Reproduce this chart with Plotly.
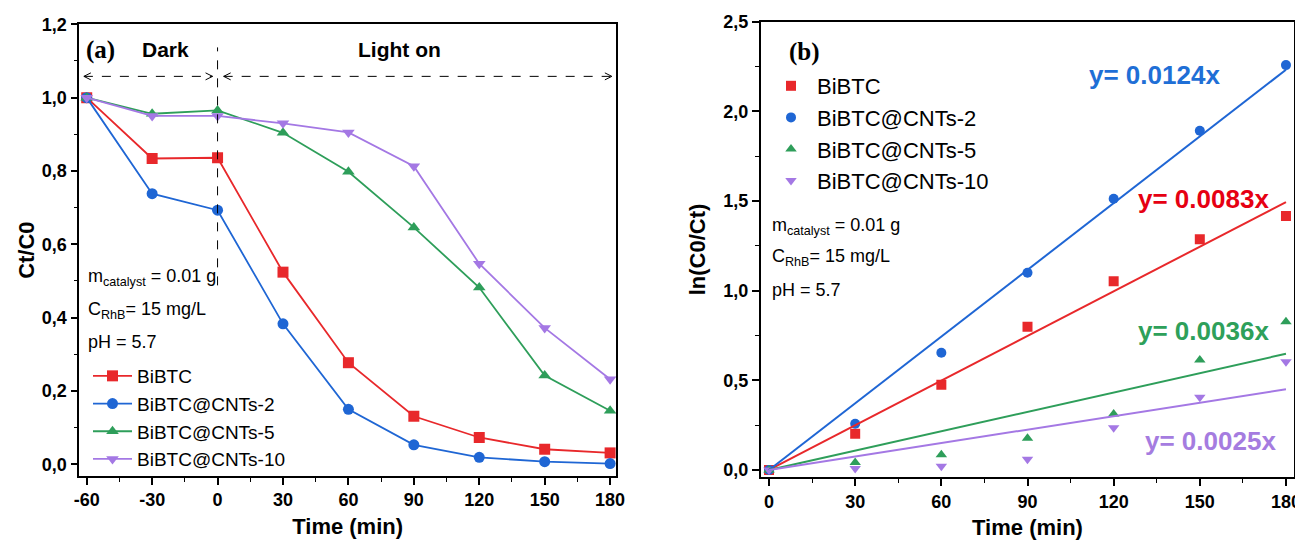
import plotly.graph_objects as go

# ---------------- data ----------------
series_names = ["BiBTC", "BiBTC@CNTs-2", "BiBTC@CNTs-5", "BiBTC@CNTs-10"]
colors = ["#e8282b", "#1f66d4", "#2e9e5a", "#a478e4"]
label_colors = ["#e60012", "#1f6fd6", "#2ea05a", "#a57ce0"]
symbols_a = ["square", "circle", "triangle-up", "triangle-down"]

time_a = [-60, -30, 0, 30, 60, 90, 120, 150, 180]
ct_bibtc = [1.0, 0.834, 0.836, 0.524, 0.277, 0.131, 0.073, 0.041, 0.031]
ct_cnt2 = [1.0, 0.738, 0.693, 0.383, 0.150, 0.053, 0.019, 0.007, 0.002]
ct_cnt5 = [1.0, 0.956, 0.965, 0.904, 0.798, 0.646, 0.482, 0.242, 0.146]
ct_cnt10 = [1.0, 0.950, 0.950, 0.930, 0.905, 0.813, 0.547, 0.372, 0.232]

time_b = [0, 30, 60, 90, 120, 150, 180]
ln_bibtc = [0.0, 0.202, 0.475, 0.798, 1.052, 1.287, 1.417]
ln_cnt2 = [0.0, 0.258, 0.654, 1.100, 1.513, 1.892, 2.258]
ln_cnt5 = [0.0, 0.042, 0.085, 0.177, 0.312, 0.613, 0.827]
ln_cnt10 = [0.0, 0.008, 0.020, 0.060, 0.236, 0.405, 0.604]
fit_slopes = [0.0083, 0.0124, 0.0036, 0.0025]
fit_labels = ["y= 0.0083x", "y= 0.0124x", "y= 0.0036x", "y= 0.0025x"]
fit_x = [0, 180]

ticks_a = [-60, -30, 0, 30, 60, 90, 120, 150, 180]
ticks_b = [0, 30, 60, 90, 120, 150, 180]

ct_all = [ct_bibtc, ct_cnt2, ct_cnt5, ct_cnt10]
ln_all = [ln_bibtc, ln_cnt2, ln_cnt5, ln_cnt10]

FONT = "Liberation Sans, Arial, sans-serif"
NARROW = "Liberation Sans Narrow, Arial Narrow, Liberation Sans, Arial, sans-serif"
SERIF = "Liberation Serif, Times New Roman, serif"

W, H = 1295, 532  # page body adds an 8px margin

fig = go.Figure()

# ---------------- panel (a) ----------------
for name, c, sym, ys in zip(series_names, colors, symbols_a, ct_all):
    fig.add_trace(go.Scatter(
        x=time_a, y=ys, name=name, mode="lines+markers",
        line=dict(color=c, width=1.8),
        marker=dict(symbol=sym, size=11, color=c),
        xaxis="x", yaxis="y", legend="legend",
    ))

# ---------------- panel (b) ----------------
for name, c, sym, ys in zip(series_names, colors, symbols_a, ln_all):
    fig.add_trace(go.Scatter(
        x=time_b, y=ys, name=name, mode="markers",
        marker=dict(symbol=sym, size=10, color=c),
        xaxis="x2", yaxis="y2", legend="legend2",
    ))
for c, k in zip(colors, fit_slopes):
    fig.add_trace(go.Scatter(
        x=fit_x, y=[k * v for v in fit_x], mode="lines",
        line=dict(color=c, width=2), showlegend=False,
        xaxis="x2", yaxis="y2", hoverinfo="skip",
    ))

axis_common = dict(
    showgrid=False, zeroline=False, showline=True, mirror=True,
    linecolor="black", linewidth=1.6, ticks="outside", ticklen=7,
    tickwidth=1.5, tickcolor="black", automargin=False,
    tickfont=dict(family=FONT, size=18, color="black", weight="bold"),
)
title_font = dict(family=FONT, size=22, color="black")

fig.update_layout(
    width=W, height=H,
    margin=dict(l=0, r=0, t=0, b=0, autoexpand=False),
    paper_bgcolor="white", plot_bgcolor="white",
    separators=", ",
    showlegend=True,
    xaxis=dict(
        domain=[71.3 / W, 608 / W], range=[-63.4, 182.7],
        tickvals=ticks_a, ticktext=[str(t) for t in ticks_a],
        minor=dict(dtick=15, tick0=-60, ticks="outside", ticklen=4, tickwidth=1.3, tickcolor="black"),
        title=dict(text="<b>Time (min)</b>", font=title_font, standoff=9),
        anchor="y", **axis_common,
    ),
    yaxis=dict(
        domain=[1 - 468 / H, 1 - 16.3 / H], range=[-0.032, 1.2],
        dtick=0.2, tick0=0, tickformat=".1f",
        minor=dict(dtick=0.1, tick0=0, ticks="outside", ticklen=4, tickwidth=1.3, tickcolor="black"),
        title=dict(text="<b>Ct/C0</b>", font=title_font, standoff=1),
        anchor="x", **axis_common,
    ),
    xaxis2=dict(
        domain=[752.7 / W, 1286.3 / W], range=[-2.9, 182.9],
        tickvals=ticks_b, ticktext=[str(t) for t in ticks_b],
        minor=dict(dtick=15, tick0=0, ticks="outside", ticklen=4, tickwidth=1.3, tickcolor="black"),
        title=dict(text="<b>Time (min)</b>", font=title_font, standoff=9),
        anchor="y2", **axis_common,
    ),
    yaxis2=dict(
        domain=[1 - 469.3 / H, 1 - 13.7 / H], range=[-0.041, 2.5],
        dtick=0.5, tick0=0, tickformat=".1f",
        minor=dict(dtick=0.25, tick0=0, ticks="outside", ticklen=4, tickwidth=1.3, tickcolor="black"),
        title=dict(text="<b>ln(C0/Ct)</b>", font=title_font, standoff=12),
        anchor="x2", **axis_common,
    ),
    legend=dict(
        x=80 / W, y=1 - 349 / H, xanchor="left", yanchor="top",
        bgcolor="rgba(0,0,0,0)", borderwidth=0, itemwidth=39,
        font=dict(family=FONT, size=19, color="black"), tracegroupgap=0,
    ),
    legend2=dict(
        x=757 / W, y=1 - 57 / H, xanchor="left", yanchor="top",
        bgcolor="rgba(0,0,0,0)", borderwidth=0, itemwidth=42,
        font=dict(family=FONT, size=22, color="black"), tracegroupgap=0,
    ),
)

ann = []
shapes = []

# panel (a) texts
ann.append(dict(x=-53.7, y=1.13, xref="x", yref="y", text="<b>(a)</b>", showarrow=False,
                font=dict(family=SERIF, size=25, color="black")))
ann.append(dict(x=-23.7, y=1.13, xref="x", yref="y", text="<b>Dark</b>", showarrow=False,
                font=dict(family=FONT, size=21, color="black")))
ann.append(dict(x=83.6, y=1.13, xref="x", yref="y", text="<b>Light on</b>", showarrow=False,
                font=dict(family=FONT, size=21, color="black")))
cond_lines = ["m<sub>catalyst</sub> = 0.01 g", "C<sub>RhB</sub>= 15 mg/L", "pH = 5.7"]
for txt, yy in zip(cond_lines, [0.51, 0.42, 0.333]):
    ann.append(dict(x=-60.5, y=yy, xref="x", yref="y", text=txt, showarrow=False,
                    xanchor="left", font=dict(family=NARROW, size=18, color="black")))

# dashed separator and arrows
shapes.append(dict(type="line", xref="x", yref="y", x0=0, x1=0, y0=0.488, y1=1.137,
                   line=dict(color="black", width=1, dash="dash")))
for x0, x1 in [(-61.3, -2.3), (2.8, 180.8)]:
    shapes.append(dict(type="line", xref="x", yref="y", x0=x0, x1=x1, y0=1.058, y1=1.058,
                       line=dict(color="black", width=1, dash="dash")))
    shapes.append(dict(type="path", xref="x", yref="y", xsizemode="pixel", ysizemode="pixel",
                       xanchor=x0, yanchor=1.058, path="M 7,3.5 L 0,0 L 7,-3.5",
                       line=dict(color="black", width=1)))
    shapes.append(dict(type="path", xref="x", yref="y", xsizemode="pixel", ysizemode="pixel",
                       xanchor=x1, yanchor=1.058, path="M -7,3.5 L 0,0 L -7,-3.5",
                       line=dict(color="black", width=1)))

# panel (b) texts
ann.append(dict(x=12.2, y=2.33, xref="x2", yref="y2", text="<b>(b)</b>", showarrow=False,
                font=dict(family=SERIF, size=25, color="black")))
for txt, yy in zip(cond_lines, [1.36, 1.185, 1.005]):
    ann.append(dict(x=0.5, y=yy, xref="x2", yref="y2", text=txt, showarrow=False,
                    xanchor="left", font=dict(family=NARROW, size=18, color="black")))
label_pos = [(151.3, 1.51), (134.2, 2.205), (151.3, 0.775), (153.6, 0.16)]
for (lx, ly), txt, c in zip(label_pos, fit_labels, label_colors):
    ann.append(dict(x=lx, y=ly, xref="x2", yref="y2", text="<b>" + txt + "</b>", showarrow=False,
                    font=dict(family=FONT, size=26, color=c)))

fig.update_layout(annotations=ann, shapes=shapes)
fig.write_html("out.html")
